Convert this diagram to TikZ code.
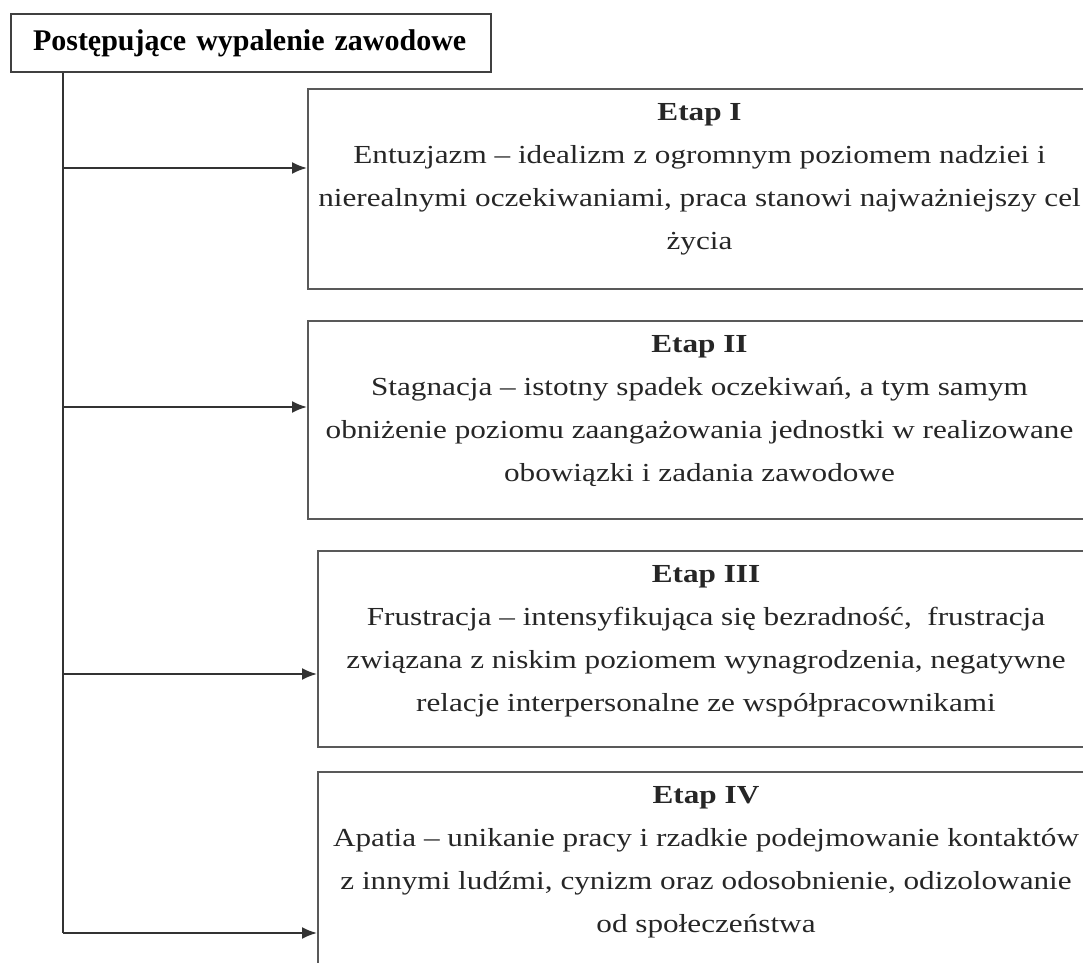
\documentclass[tikz,border=0pt]{standalone}
\usepackage{fontspec}
\setmainfont{Liberation Serif}
\newfontfamily\bodyfont[FakeStretch=1.2]{Liberation Serif}
\usetikzlibrary{arrows.meta,positioning}

\begin{document}
\begin{tikzpicture}[x=0.5pt,y=-0.5pt,
    stagebox/.style={draw=black!65,line width=1pt,anchor=north west,inner sep=0pt},
    stagetext/.style={anchor=north,align=center,inner sep=0pt,text=black!85,
      font=\bodyfont\fontsize{13}{21.5}\selectfont},
    link/.style={-{Latex[length=7.5pt,width=6pt]},draw=black!80,line width=1pt}]
    \useasboundingbox (0,0) rectangle (1083,963);
    \clip (0,0) rectangle (1083,963);

    \node[draw=black!75,line width=1pt,anchor=north west,minimum width=240pt,minimum height=29pt,
      text width=218pt,inner xsep=11pt,inner ysep=0pt,align=left,
      font=\bfseries\fontsize{15}{18}\selectfont] (title) at (10,13) {Postępujące wypalenie zawodowe};

    \node[stagebox,minimum width=391.5pt,minimum height=100pt] (e1) at (307,88) {};
    \node[stagebox,minimum width=391.5pt,minimum height=99pt] (e2) at (307,320) {};
    \node[stagebox,minimum width=388pt,minimum height=98pt] (e3) at (317,550) {};
    \node[stagebox,minimum width=388pt,minimum height=120pt] (e4) at (317,771) {};

    \node[stagetext] (t1) at ([yshift=-7.5pt]e1.north) {\textbf{Etap I}\\
      Entuzjazm – idealizm z ogromnym poziomem nadziei i\\
      nierealnymi oczekiwaniami, praca stanowi najważniejszy cel\\
      życia};
    \node[stagetext] (t2) at ([yshift=-7.5pt]e2.north) {\textbf{Etap II}\\
      Stagnacja – istotny spadek oczekiwań, a tym samym\\
      obniżenie poziomu zaangażowania jednostki w realizowane\\
      obowiązki i zadania zawodowe};
    \node[stagetext] (t3) at ([yshift=-7.5pt]e3.north) {\textbf{Etap III}\\
      Frustracja – intensyfikująca się bezradność,\ \ frustracja\\
      związana z niskim poziomem wynagrodzenia, negatywne\\
      relacje interpersonalne ze współpracownikami};
    \node[stagetext] (t4) at ([yshift=-7.5pt]e4.north) {\textbf{Etap IV}\\
      Apatia – unikanie pracy i rzadkie podejmowanie kontaktów\\
      z innymi ludźmi, cynizm oraz odosobnienie, odizolowanie\\
      od społeczeństwa};

    \coordinate (j1) at (63,168);
    \coordinate (j2) at (63,407);
    \coordinate (j3) at (63,674);
    \coordinate (j4) at (63,933);
    \draw[black!80,line width=1pt] (title.south -| j1) -- (j4);
    \draw[link] (j1) -- (j1 -| e1.west);
    \draw[link] (j2) -- (j2 -| e2.west);
    \draw[link] (j3) -- (j3 -| e3.west);
    \draw[link] (j4) -- (j4 -| e4.west);
\end{tikzpicture}
\end{document}
